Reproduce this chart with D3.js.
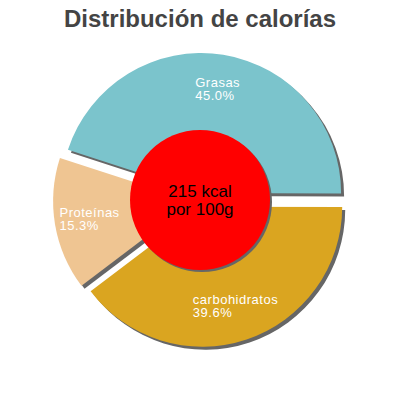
<!DOCTYPE html>
<html>
<head>
<meta charset="utf-8">
<script src="https://cdn.jsdelivr.net/npm/d3@7"></script>
<style>
  body { margin: 0; background: #fff; }
  svg { font-family: "Liberation Sans", Arial, sans-serif; }
</style>
</head>
<body>
<div class="container"></div>
<script>
// data
const categories = ["Grasas", "carbohidratos", "Proteínas"]
const percents = [45.0, 39.6, 15.3]
const colors = ["#7bc4cc", "#daa520", "#efc592"]
const centerLines = ["215 kcal", "por 100g"]
const title = "Distribución de calorías"

const w = 400
const h = 400
const cx = 200
const cy = 200
const radius = 140
const holeRadius = 70
const explode = 7

const svg = d3.select(".container")
  .append("svg")
  .attr("width", w)
  .attr("height", h)

svg.append("text")
  .attr("x", w / 2)
  .attr("y", 27)
  .attr("text-anchor", "middle")
  .style("font-size", "24px")
  .style("font-weight", "bold")
  .style("fill", "#444")
  .text(title)

const data = categories.map((c, i) => ({ name: c, value: percents[i], color: colors[i] }))

// grasas ends at 3 o'clock, so shift the start angle back by its share
const startShift = Math.PI / 2 - (percents[0] / 100) * 2 * Math.PI
const pie = d3.pie()
  .value(d => d.value)
  .sort(null)
  .startAngle(startShift)
  .endAngle(startShift + 2 * Math.PI)

const arcs = pie(data)
const arc = d3.arc().innerRadius(0).outerRadius(radius)
const labelArc = d3.arc().innerRadius(105).outerRadius(105)

const offset = (d) => {
  const mid = (d.startAngle + d.endAngle) / 2
  return [Math.sin(mid) * explode, -Math.cos(mid) * explode]
}

const g = svg.append("g").attr("transform", `translate(${cx},${cy})`)

// shadows
g.selectAll("path.shadow")
  .data(arcs)
  .enter()
  .append("path")
  .attr("class", "shadow")
  .attr("d", arc)
  .attr("fill", "#666")
  .attr("transform", d => {
    const o = offset(d)
    return `translate(${o[0] + 3},${o[1] + 3})`
  })

g.selectAll("path.slice")
  .data(arcs)
  .enter()
  .append("path")
  .attr("class", "slice")
  .attr("d", arc)
  .attr("fill", d => d.data.color)
  .attr("transform", d => {
    const o = offset(d)
    return `translate(${o[0]},${o[1]})`
  })

// labels
arcs.forEach(d => {
  const o = offset(d)
  const c = labelArc.centroid(d)
  const lg = g.append("g")
  const t = lg.append("text")
    .style("font-size", "13px")
    .style("letter-spacing", "0.5px")
    .style("fill", "#fff")
  t.append("tspan").attr("x", 0).attr("y", -2).text(d.data.name)
  t.append("tspan").attr("x", 0).attr("y", 11).text(d.data.value.toFixed(1) + "%")
  const bw = t.node().getBBox().width
  lg.attr("transform", `translate(${c[0] + o[0] - bw / 2},${c[1] + o[1]})`)
})

// center circle
g.append("circle")
  .attr("cx", 2)
  .attr("cy", 2)
  .attr("r", holeRadius)
  .attr("fill", "#666")
g.append("circle")
  .attr("r", holeRadius)
  .attr("fill", "#ff0000")

g.selectAll("text.center")
  .data(centerLines)
  .enter()
  .append("text")
  .attr("class", "center")
  .attr("x", 0)
  .attr("y", (d, i) => -3 + i * 18)
  .attr("text-anchor", "middle")
  .style("font-size", "17px")
  .style("fill", "#000")
  .text(d => d)
</script>
</body>
</html>
